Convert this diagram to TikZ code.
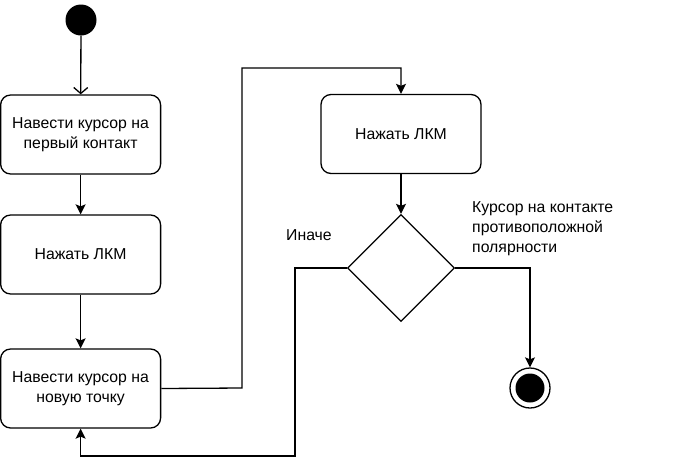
\documentclass[tikz,border=0pt]{standalone}
\usepackage{fontspec}
\setmainfont{Liberation Sans}
\usetikzlibrary{shapes.geometric,arrows.meta,positioning}
\tikzset{%
  actionBox/.style={%
    rectangle,
    rounded corners=10pt,
    draw=black,
    fill=white,
    line width=1.3pt,
    minimum width=160pt,
    minimum height=79pt,
    align=center,
    font=\fontsize{15.8pt}{20pt}\selectfont
  },
  choiceBox/.style={%
    diamond,
    draw=black,
    fill=white,
    line width=1.3pt,
    minimum width=107pt,
    minimum height=107pt,
    inner sep=0pt
  },
  startState/.style={%
    circle,
    fill=black,
    minimum size=31pt,
    inner sep=0pt
  },
  finishState/.style={%
    circle,
    draw=black,
    line width=1.3pt,
    minimum size=40pt,
    inner sep=0pt,
    path picture={\fill (path picture bounding box.center) circle (14.5pt);}
  },
  flowLine/.style={%
    -{Stealth[length=10pt,width=10pt,inset=2pt]},
    line width=1.3pt
  },
  openLine/.style={%
    -{Straight Barb[length=6pt,width=14pt]},
    line width=1.3pt
  },
  guardText/.style={%
    anchor=west,
    align=left,
    inner sep=0pt,
    font=\fontsize{15.8pt}{20pt}\selectfont
  }
}
\begin{document}
\begin{tikzpicture}[x=1pt,y=-1pt]
  \useasboundingbox (0,0) rectangle (684,469);

  \node[startState] (start) at (81,20) {};
  \node[actionBox] (aim1) at (80.6,134.5) {Навести курсор на\\первый контакт};
  \node[actionBox] (click1) at (80.6,254.5) {Нажать ЛКМ};
  \node[actionBox] (aim2) at (80.6,388.5) {Навести курсор на\\новую точку};
  \node[actionBox] (click2) at (401,134) {Нажать ЛКМ};
  \node[choiceBox] (check) at (401,268) {};
  \node[finishState] (finish) at (530,388) {};

  \coordinate (up1) at (242,388);
  \coordinate (up2) at (242,68);
  \coordinate (back1) at (295,268);
  \coordinate (back2) at (295,456);

  \draw[openLine] (start) -- (aim1);
  \draw[flowLine] (aim1) -- (click1);
  \draw[flowLine] (click1) -- (aim2);
  \draw[flowLine] (aim2.east) -- (up1) -- (up2) -- (up2 -| click2) -- (click2.north);
  \draw[flowLine] (click2) -- (check);
  \draw[flowLine] (check.west) -- (back1) -- (back2) -- (back2 -| aim2) -- (aim2.south);
  \draw[flowLine] (check.east) -- (check.east -| finish) -- (finish.north);

  \node[guardText] (elseText) at (286,235) {Иначе};
  \node[guardText] (okText) at (472,229) {Курсор на контакте\\противоположной\\полярности};
\end{tikzpicture}
\end{document}
